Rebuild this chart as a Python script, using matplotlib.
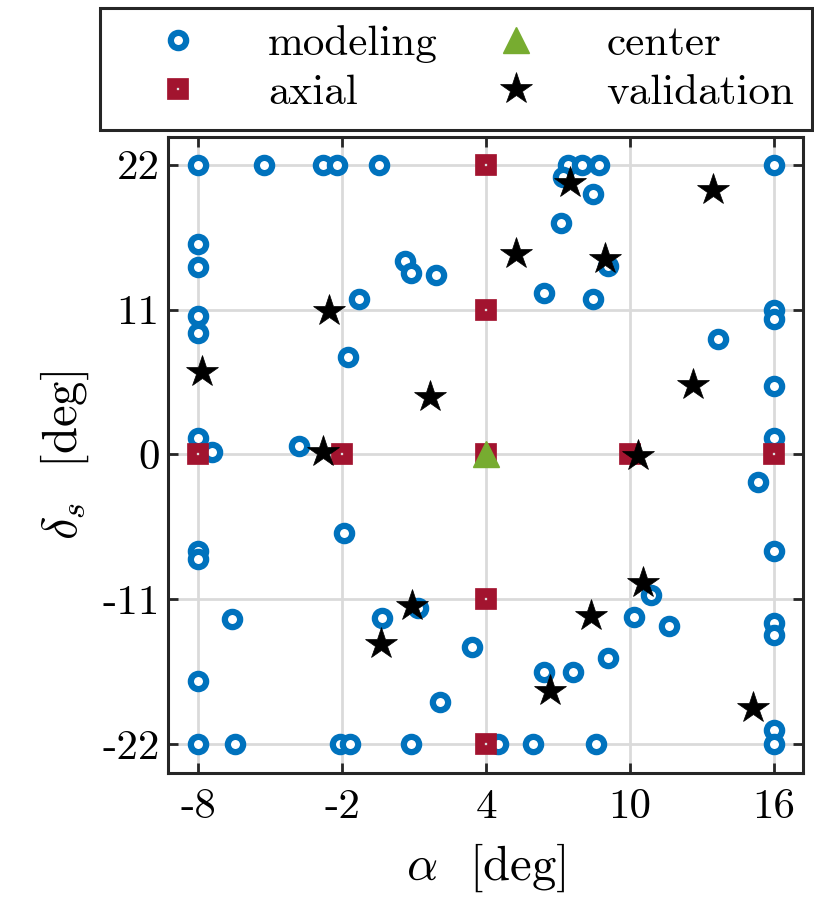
import numpy as np
import matplotlib
matplotlib.use("Agg")
import matplotlib.pyplot as plt

plt.rcParams['font.family'] = ['cmr10', 'DejaVu Serif']
plt.rcParams['mathtext.fontset'] = 'cm'
plt.rcParams['axes.unicode_minus'] = False

# modeling points (alpha, delta_s)
mod_alpha = [-8, -5.24, -2.79, -2.23, -0.47, 7.40, 7.98, 8.72, 16.0, 7.22, 8.47, 7.14,
             -8, -8, -8, -8, 0.64, 0.89, 1.93, -1.29, -1.75, 9.07, 6.41, 8.47, 16.0, 16.0,
             13.64, 16.0, -8, -7.43, -3.81, 16.0, 15.31, -1.91, -8, -8, 16.0, 10.86, 10.15,
             11.6, 1.16, -6.59, -0.32, 16.0, 16.0, 3.41, 9.07, 6.43, 7.64, -8, 2.09, 16.0,
             -8, -6.46, -2.09, -1.65, 0.89, 4.49, 5.95, 8.58, 16.0]
mod_delta = [22, 22, 22, 22, 22, 22, 22, 22, 22, 21.04, 19.77, 17.54,
             16.0, 14.25, 10.53, 9.18, 14.7, 13.77, 13.6, 11.82, 7.43, 14.27, 12.25, 11.82, 10.98, 10.27,
             8.76, 5.2, 1.23, 0.17, 0.65, 1.23, -2.11, -5.99, -7.33, -7.94, -7.33, -10.68, -12.37,
             -13.03, -11.69, -12.5, -12.4, -12.83, -13.7, -14.6, -15.5, -16.55, -16.55, -17.2, -18.78, -20.93,
             -22, -22, -22, -22, -22, -22, -22, -22, -22]

# axial points
ax_alpha = [-8, -2, 4, 10, 16, 4, 4, 4, 4]
ax_delta = [0, 0, 0, 0, 0, 22, 11, -11, -22]

# center point
cen_alpha = [4]
cen_delta = [0]

# validation points
val_alpha = [-2.54, -7.85, 1.65, -2.79, 7.50, 13.43, 5.25, 8.96, 12.6, 10.31,
             0.91, -0.39, 10.55, 8.35, 6.68, 15.13]
val_delta = [10.85, 6.25, 4.39, 0.21, 20.6, 20.1, 15.24, 14.86, 5.28, -0.1,
             -11.5, -14.4, -9.74, -12.27, -18.0, -19.3]

xticks = [-8, -2, 4, 10, 16]
yticks = [-22, -11, 0, 11, 22]

fig = plt.figure(figsize=(8.14, 8.98), dpi=100)
ax = fig.add_axes([0.2064, 0.1392, 0.7801, 0.7082])

blue = '#0072BD'
red = '#A2142F'
green = '#77AC30'

h1, = ax.plot(mod_alpha, mod_delta, 'o', ms=11, mew=4.5, mec=blue, mfc='white',
              label='modeling', zorder=3)
h2, = ax.plot(ax_alpha, ax_delta, 's', ms=9, mew=7, mec=red, mfc='#dddddd',
              label='axial', zorder=4)
h3, = ax.plot(cen_alpha, cen_delta, '^', ms=19, mew=1, mec=green, mfc=green,
              label='center', zorder=5)
h4, = ax.plot(val_alpha, val_delta, '*', ms=24, mew=0.5, mec='black', mfc='black',
              label='validation', zorder=6)

ax.set_xlim(-9.25, 17.2)
ax.set_ylim(-24.2, 24.1)
ax.set_xticks(xticks)
ax.set_xticklabels([str(t) for t in xticks])
ax.set_yticks(yticks)
ax.set_yticklabels([str(t) for t in yticks])
ax.grid(True, color='#dadada', linewidth=2)
ax.set_axisbelow(True)
ax.tick_params(direction='in', length=7, width=2, labelsize=31, top=True, right=True,
               color='#262626')
ax.tick_params(axis='x', pad=11)
ax.tick_params(axis='y', pad=6)
for s in ax.spines.values():
    s.set_linewidth(2.2)
    s.set_color('#262626')

ax.set_xlabel(r'$\alpha$  [deg]', fontsize=35, labelpad=11)
ax.set_ylabel(r'$\delta_s$  [deg]', fontsize=35, labelpad=8)

leg = fig.legend(handles=[h1, h2, h3, h4], ncol=2, loc='upper left',
                 bbox_to_anchor=(0.123, 0.991, 0.874, 0.0), mode='expand',
                 fontsize=31, fancybox=False, framealpha=1, edgecolor='#262626',
                 handlelength=2.8, handletextpad=0.7, borderpad=0.4,
                 borderaxespad=0, labelspacing=0.25, markerscale=1)
leg.get_frame().set_linewidth(2.2)

fig.savefig('out.png', dpi=100)
